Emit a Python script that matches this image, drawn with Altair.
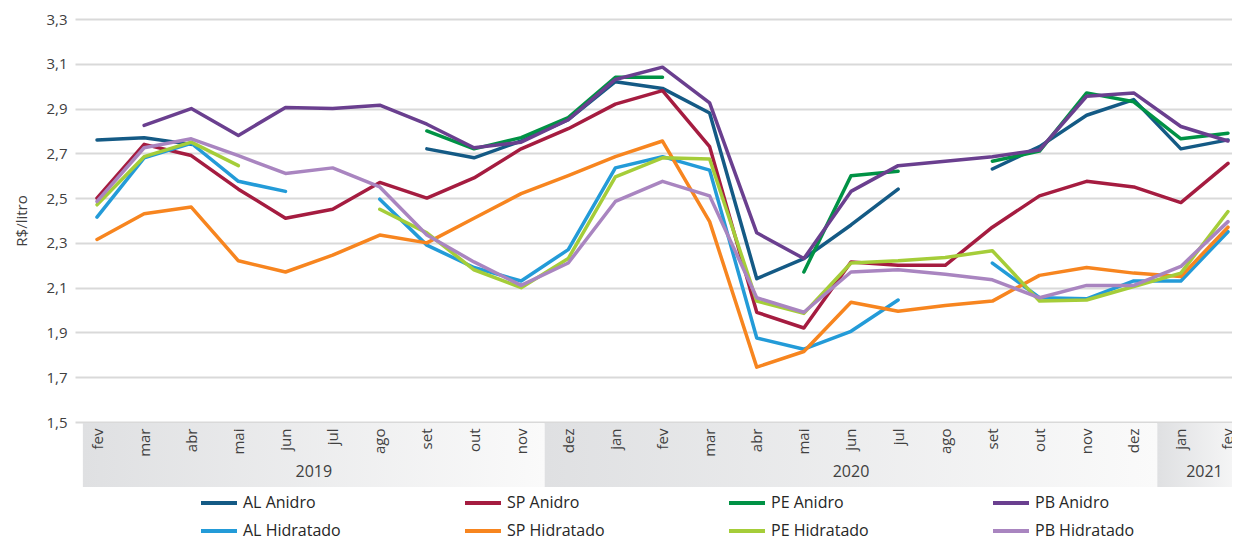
import altair as alt
import pandas as pd

N = None
months = ['fev', 'mar', 'abr', 'mai', 'jun', 'jul', 'ago', 'set', 'out', 'nov',
          'dez', 'jan', 'fev', 'mar', 'abr', 'mai', 'jun', 'jul', 'ago', 'set',
          'out', 'nov', 'dez', 'jan', 'fev']

series_names = ['AL Anidro', 'SP Anidro', 'PE Anidro', 'PB Anidro',
                'AL Hidratado', 'SP Hidratado', 'PE Hidratado', 'PB Hidratado']
series_colors = ['#145a85', '#a51c40', '#009245', '#6a3f8f',
                 '#239bd8', '#f7851f', '#a5cd39', '#a985c0']

al_anidro = [2.76, 2.77, 2.74, N, N, N, N, 2.72, 2.68, 2.755, 2.85, 3.02, 2.99, 2.88,
             2.14, 2.23, 2.38, 2.54, N, 2.63, 2.73, 2.87, 2.94, 2.72, 2.76]
sp_anidro = [2.50, 2.74, 2.69, 2.54, 2.41, 2.45, 2.57, 2.50, 2.59, 2.72, 2.81, 2.92, 2.98, 2.73,
             1.99, 1.92, 2.215, 2.20, 2.20, 2.37, 2.51, 2.575, 2.55, 2.48, 2.655]
pe_anidro = [N, N, N, N, N, N, N, 2.80, 2.72, 2.77, 2.86, 3.04, 3.04, N,
             N, 2.17, 2.60, 2.62, N, 2.665, 2.71, 2.97, 2.93, 2.765, 2.79]
pb_anidro = [N, 2.825, 2.90, 2.78, 2.905, 2.90, 2.915, 2.83, 2.725, 2.75, 2.85, 3.03, 3.085, 2.925,
             2.345, 2.23, 2.53, 2.645, 2.665, 2.685, 2.715, 2.955, 2.97, 2.82, 2.755]
al_hidratado = [2.415, 2.68, 2.745, 2.575, 2.53, N, 2.495, 2.29, 2.19, 2.13, 2.27, 2.635, 2.685, 2.625,
                1.875, 1.825, 1.905, 2.045, N, 2.21, 2.055, 2.05, 2.13, 2.13, 2.35]
sp_hidratado = [2.315, 2.43, 2.46, 2.22, 2.17, 2.245, 2.335, 2.30, 2.41, 2.52, 2.60, 2.685, 2.755, 2.395,
                1.745, 1.815, 2.035, 1.995, 2.02, 2.04, 2.155, 2.19, 2.165, 2.15, 2.37]
pe_hidratado = [2.47, 2.685, 2.75, 2.645, N, N, 2.45, 2.345, 2.18, 2.10, 2.23, 2.595, 2.68, 2.675,
                2.04, 1.985, 2.21, 2.22, 2.235, 2.265, 2.04, 2.045, 2.105, 2.165, 2.44]
pb_hidratado = [2.485, 2.725, 2.765, 2.69, 2.61, 2.635, 2.55, 2.335, 2.215, 2.11, 2.21, 2.485, 2.575, 2.51,
                2.055, 1.99, 2.17, 2.18, 2.16, 2.135, 2.055, 2.11, 2.11, 2.195, 2.395]

series_values = [al_anidro, sp_anidro, pe_anidro, pb_anidro,
                 al_hidratado, sp_hidratado, pe_hidratado, pb_hidratado]

years = ['2019', '2020', '2021']
year_start = [-0.3, 9.5, 22.5]
year_end = [9.5, 22.5, 24.5]

y_ticks = [1.5, 1.7, 1.9, 2.1, 2.3, 2.5, 2.7, 2.9, 3.1, 3.3]

FONT = 'Open Sans'
TXT = '#404040'

rows = []
for name, vals in zip(series_names, series_values):
    seg = 0
    for i, v in enumerate(vals):
        if v is None:
            seg += 1
            continue
        rows.append({'i': i, 'v': v, 's': name, 'seg': f'{name}-{seg}'})
df = pd.DataFrame(rows)

band_df = pd.DataFrame({'year': years, 'start': year_start, 'end': year_end})
band_df['mid'] = (band_df['start'] + band_df['end']) / 2

x_scale = alt.Scale(domain=[-0.467, 24.085], nice=False, zero=False)
label_expr = '[' + ','.join(f"'{m}'" for m in months) + '][datum.value]'

gradient = alt.LinearGradient(
    gradient='linear',
    stops=[alt.GradientStop(color='#dfe0e2', offset=0),
           alt.GradientStop(color='#fafafa', offset=1)],
    x1=0, x2=1, y1=0, y2=0)

bands = alt.Chart(band_df).mark_rect(color=gradient).encode(
    x=alt.X('start:Q', scale=x_scale,
            axis=alt.Axis(values=list(range(25)), labelExpr=label_expr, labelAngle=-90,
                          labelPadding=6, domain=False, ticks=False, grid=False, title=None,
                          zindex=1, labelFontSize=15, labelFont=FONT, labelColor=TXT)),
    x2='end:Q',
    y=alt.value(404),
    y2=alt.value(468),
)

year_text = alt.Chart(band_df).mark_text(fontSize=16, font=FONT, color=TXT).encode(
    x=alt.X('mid:Q', scale=x_scale),
    y=alt.value(453),
    text='year:N',
)

lines = alt.Chart(df).mark_line(strokeWidth=3.5, strokeCap='round', strokeJoin='round').encode(
    x=alt.X('i:Q', scale=x_scale),
    y=alt.Y('v:Q', scale=alt.Scale(domain=[1.5, 3.3], nice=False, zero=False),
            axis=alt.Axis(values=y_ticks,
                          labelExpr="replace(format(datum.value, '.1f'), '.', ',')",
                          title='R$/litro', grid=True, gridColor='#d9d9d9', gridWidth=2,
                          domain=False, ticks=False, labelPadding=8, titlePadding=16,
                          labelFontSize=15, titleFontSize=15, titleFontWeight='normal',
                          labelFont=FONT, titleFont=FONT,
                          labelColor=TXT, titleColor=TXT)),
    color=alt.Color('s:N', scale=alt.Scale(domain=series_names, range=series_colors),
                    legend=alt.Legend(orient='none', legendX=124, legendY=464,
                                      direction='horizontal', columns=4,
                                      symbolType='stroke', symbolStrokeWidth=4, symbolSize=1296,
                                      labelFontSize=16, labelFont=FONT, labelColor='#262626',
                                      columnPadding=114, rowPadding=-13, gridAlign='all',
                                      title=None, labelOffset=4, padding=0, labelLimit=0)),
    detail='seg:N',
    order=alt.Order('i:Q'),
)

chart = alt.layer(bands, year_text, lines).properties(
    width=1157, height=403,
    padding={'left': 67, 'top': 11, 'right': 0, 'bottom': 117},
    autosize=alt.AutoSizeParams(type='none'),
).configure_view(stroke=None)

chart.save('out.html', embed_options={'renderer': 'svg', 'actions': False})
